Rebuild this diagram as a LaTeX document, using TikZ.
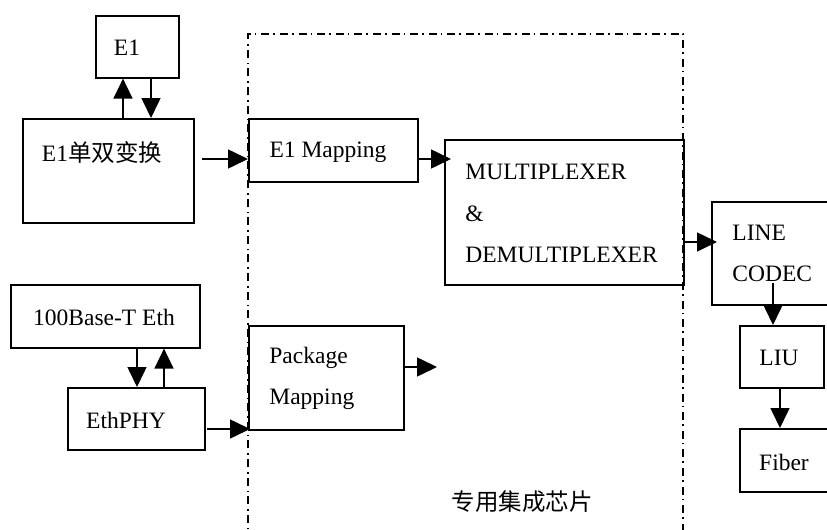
\documentclass[tikz,border=0pt]{standalone}
\usepackage{fontspec}
\setmainfont{Liberation Serif}
\newfontfamily\cjk{Noto Sans CJK SC}
\usetikzlibrary{arrows.meta}
\begin{document}
\begin{tikzpicture}[x=0.5pt,y=-0.5pt,
  box/.style={draw,line width=0.8pt,anchor=north west,inner sep=0pt},
  lbl/.style={inner sep=0pt,font=\fontsize{11.75}{14}\selectfont},
  lbll/.style={lbl,anchor=west},
  arr/.style={line width=0.8pt,-{Triangle[length=10pt,width=9.5pt]}},
  asicframe/.style={draw,line width=0.7pt,dash pattern=on 4pt off 2pt on 0.8pt off 2.5pt}]
\useasboundingbox (0,0) rectangle (827,530);
% dashed chip frame
\draw[asicframe] (248,560) -- (248,34) -- (683,34) -- (683,560);
% boxes
\node[box,minimum width=41.5pt,minimum height=31pt] (e1) at (95,15) {};
\node[box,minimum width=85.5pt,minimum height=52pt] (conv) at (22,118) {};
\node[box,minimum width=84.5pt,minimum height=31.5pt] (e1map) at (248,118) {};
\node[box,minimum width=119.5pt,minimum height=72.5pt] (mux) at (444,139) {};
\node[box,minimum width=64pt,minimum height=51.5pt] (codec) at (711,201) {};
\node[box,minimum width=42pt,minimum height=31pt] (liu) at (739,325) {};
\node[box,minimum width=50pt,minimum height=31.5pt] (fiber) at (739,428) {};
\node[box,minimum width=94.5pt,minimum height=31.5pt] (eth) at (10,284) {};
\node[box,minimum width=68.5pt,minimum height=31pt] (phy) at (67,387) {};
\node[box,minimum width=77.5pt,minimum height=52pt] (pkg) at (248,325) {};
% labels
\node[lbl] (te1) at (127,48) {E1};
\node[lbl] (tconv) at (102,152) {E1{\cjk 单双变换}};
\node[lbl] (te1map) at (328,152) {E1 Mapping};
\node[lbll] (tmux1) at (465,172) {MULTIPLEXER};
\node[lbll] (tmux2) at (465,214) {\&};
\node[lbll] (tmux3) at (465,255) {DEMULTIPLEXER};
\node[lbll] (tcod1) at (732,233) {LINE};
\node[lbll] (tcod2) at (732,274) {CODEC};
\node[lbl] (tliu) at (779,358) {LIU};
\node[lbl] (tfib) at (784,462) {Fiber};
\node[lbl] (teth) at (104,317) {100Base-T Eth};
\node[lbl] (tphy) at (126,420) {EthPHY};
\node[lbll] (tpkg1) at (269,358) {Package};
\node[lbll] (tpkg2) at (269,399) {Mapping};
\node[lbl] (tchip) at (522,502) {\cjk 专用集成芯片};
% helper coordinates
\coordinate (xa) at (123,0);
\coordinate (xb) at (151,0);
\coordinate (convout) at (202,159);
\coordinate (muxin) at (451,0);
\coordinate (codin) at (717,0);
\coordinate (ya) at (0,242);
\coordinate (xc) at (773,0);
\coordinate (xd) at (780,0);
\coordinate (xe) at (137,0);
\coordinate (xf) at (164,0);
\coordinate (phyout) at (207,429);
\coordinate (pkgin) at (250,0);
\coordinate (yp) at (0,367);
\coordinate (pkgend) at (437,367);
\coordinate (codout) at (773,283);
% arrows
\draw[arr] (conv.north -| xa) -- (e1.south -| xa);
\draw[arr] (e1.south -| xb) -- (conv.north -| xb);
\draw[arr] (convout) -- (convout -| e1map.west);
\draw[arr] (e1map.east |- convout) -- (muxin |- convout);
\draw[arr] (mux.east |- ya) -- (codin |- ya);
\draw[arr] (codout) -- (liu.north -| xc);
\draw[arr] (liu.south -| xd) -- (fiber.north -| xd);
\draw[arr] (eth.south -| xe) -- (phy.north -| xe);
\draw[arr] (phy.north -| xf) -- (eth.south -| xf);
\draw[arr] (phyout) -- (pkgin |- phyout);
\draw[arr] (pkg.east |- yp) -- (pkgend);
\end{tikzpicture}
\end{document}
